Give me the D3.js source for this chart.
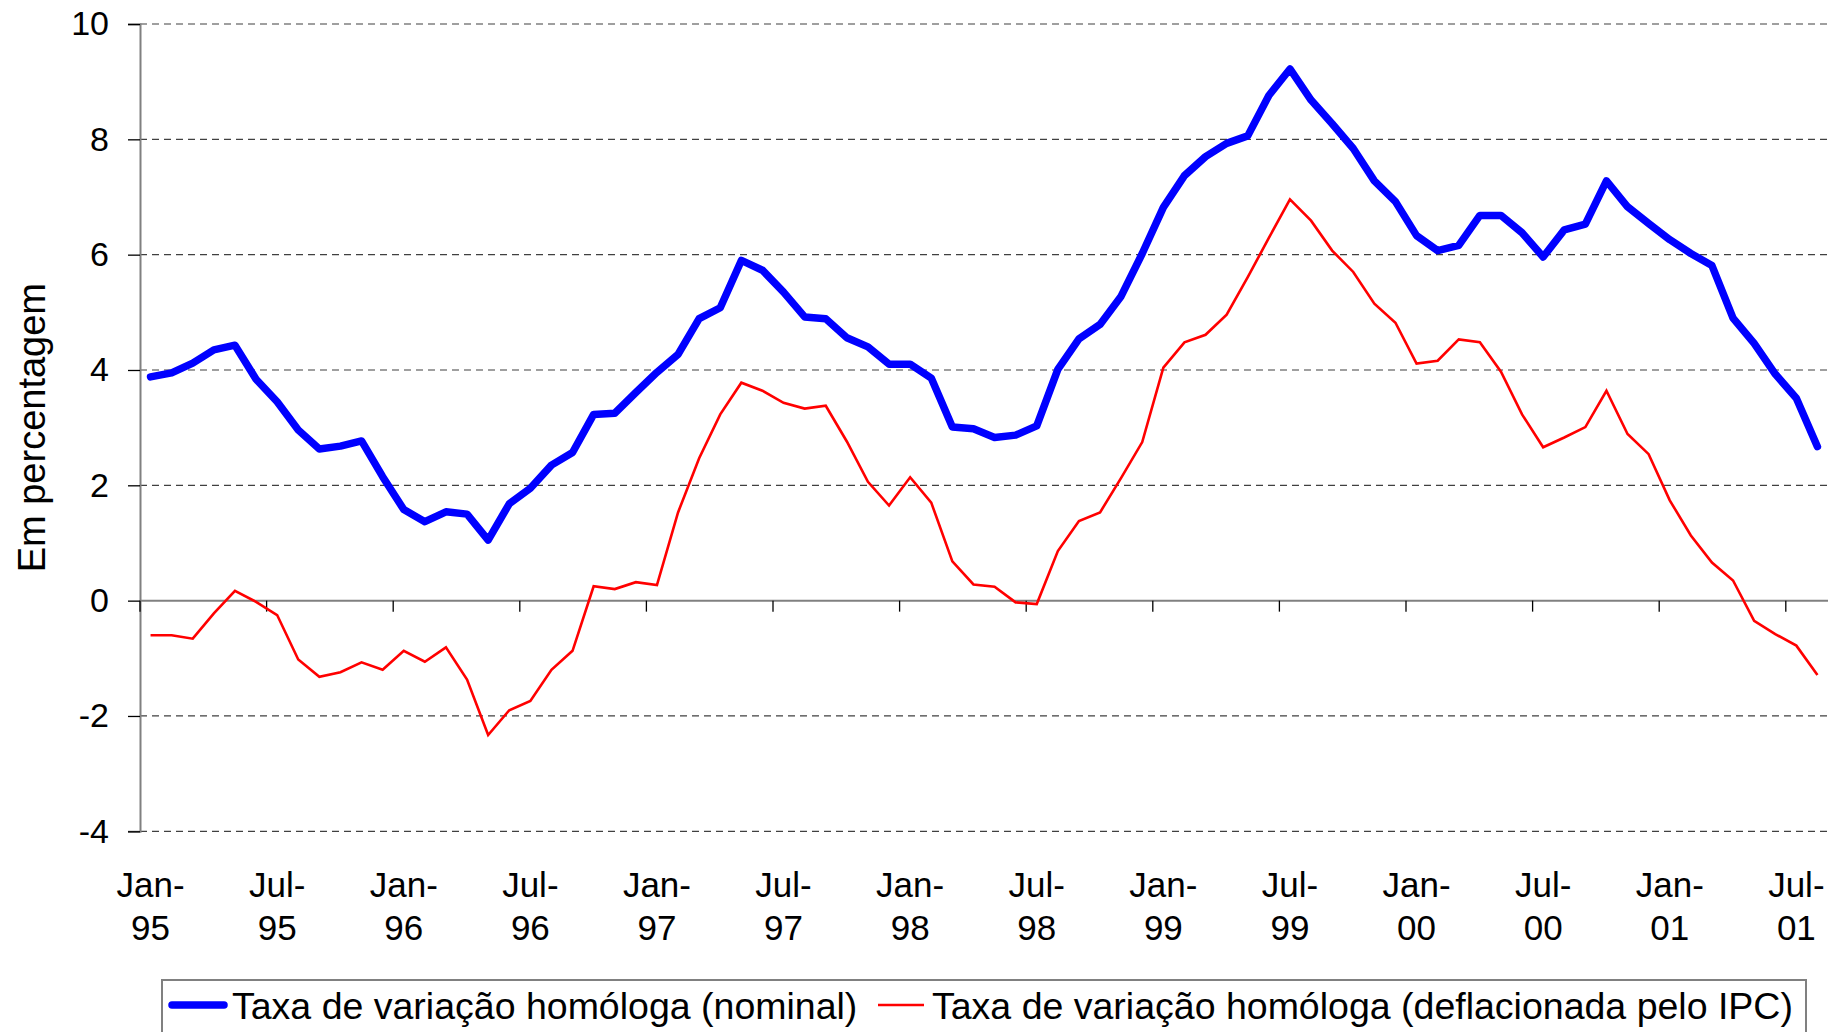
<!DOCTYPE html>
<html>
<head>
<meta charset="utf-8">
<script src="https://cdn.jsdelivr.net/npm/d3@7"></script>
<style>
  body { margin: 0; background: #fff; }
  svg { display: block; font-family: "Liberation Sans", Arial, sans-serif; }
</style>
</head>
<body>
<div id="container"></div>
<script>
// month categories, Jan-95 .. Aug-01
const months = d3.timeMonth.range(new Date(1995, 0, 1), new Date(2001, 8, 1));

const tickLabels = [
  ["Jan-", "95"], ["Jul-", "95"], ["Jan-", "96"], ["Jul-", "96"],
  ["Jan-", "97"], ["Jul-", "97"], ["Jan-", "98"], ["Jul-", "98"],
  ["Jan-", "99"], ["Jul-", "99"], ["Jan-", "00"], ["Jul-", "00"],
  ["Jan-", "01"], ["Jul-", "01"]
];

const yTicks = [-4, -2, 0, 2, 4, 6, 8, 10];

// taxa de variação homóloga (nominal)
const nominal = [
  3.88, 3.95, 4.12, 4.35, 4.43, 3.84, 3.45, 2.96, 2.63, 2.68, 2.77, 2.15,
  1.58, 1.37, 1.54, 1.50, 1.05, 1.68, 1.95, 2.35, 2.57, 3.23, 3.25, 3.61,
  3.96, 4.27, 4.89, 5.08, 5.90, 5.73, 5.35, 4.92, 4.89, 4.56, 4.40, 4.10,
  4.10, 3.86, 3.01, 2.98, 2.83, 2.87, 3.03, 4.01, 4.54, 4.79, 5.28, 6.02,
  6.82, 7.37, 7.70, 7.93, 8.06, 8.76, 9.22, 8.68, 8.27, 7.84, 7.28, 6.92,
  6.33, 6.07, 6.16, 6.68, 6.68, 6.38, 5.96, 6.43, 6.53, 7.28, 6.83, 6.54,
  6.26, 6.02, 5.81, 4.90, 4.46, 3.93, 3.51, 2.67
];

// taxa de variação homóloga (deflacionada pelo IPC)
const deflated = [
  -0.60, -0.60, -0.66, -0.22, 0.17, -0.02, -0.25, -1.02, -1.32, -1.24, -1.07, -1.20,
  -0.87, -1.06, -0.81, -1.37, -2.33, -1.90, -1.74, -1.20, -0.87, 0.25, 0.20, 0.32,
  0.27, 1.53, 2.47, 3.23, 3.78, 3.64, 3.43, 3.33, 3.38, 2.76, 2.06, 1.65,
  2.14, 1.70, 0.68, 0.28, 0.24, -0.03, -0.06, 0.86, 1.38, 1.53, 2.13, 2.75,
  4.04, 4.48, 4.61, 4.96, 5.61, 6.29, 6.96, 6.59, 6.07, 5.70, 5.15, 4.82,
  4.11, 4.16, 4.53, 4.48, 3.97, 3.23, 2.66, 2.83, 3.01, 3.64, 2.89, 2.54,
  1.74, 1.13, 0.66, 0.35, -0.35, -0.58, -0.78, -1.29
];

const seriesNames = [
  "Taxa de variação homóloga (nominal)",
  "Taxa de variação homóloga (deflacionada pelo IPC)"
];

/*==============================================
  SVG + SCALES
===============================================*/
const W = 1841, H = 1032;
const plot = { left: 140, right: 1828, top: 24, bottom: 831.3 };

const svg = d3.select("#container")
  .append("svg")
  .attr("width", W)
  .attr("height", H);

const xScale = d3.scaleBand()
  .domain(d3.range(months.length))
  .range([plot.left, plot.right])
  .padding(0);

const yScale = d3.scaleLinear()
  .domain([-4, 10])
  .range([plot.bottom, plot.top]);

const xc = i => xScale(i) + xScale.bandwidth() / 2;

/*==============================================
  GRID + Y AXIS
===============================================*/
svg.append("g")
  .selectAll("line")
  .data(yTicks.filter(d => d !== 0))
  .join("line")
  .attr("x1", plot.left)
  .attr("x2", plot.right)
  .attr("y1", d => yScale(d))
  .attr("y2", d => yScale(d))
  .attr("stroke", "#404040")
  .attr("stroke-width", 1.2)
  .attr("stroke-dasharray", "7,5");

const yAxis = d3.axisLeft(yScale)
  .tickValues(yTicks)
  .tickFormat(d => String(d))   // plain hyphen, like the original
  .tickSize(12)
  .tickPadding(19);

const yG = svg.append("g")
  .attr("transform", `translate(${plot.left},0)`)
  .call(yAxis);

yG.select(".domain").attr("stroke", "#808080").attr("stroke-width", 2);
yG.selectAll(".tick line").attr("stroke", "#000").attr("stroke-width", 1.3);
yG.selectAll(".tick text")
  .attr("font-size", 34)
  .attr("font-family", "Liberation Sans, Arial, sans-serif")
  .attr("fill", "#000");

svg.append("text")
  .attr("transform", `translate(45, ${(plot.top + plot.bottom) / 2}) rotate(-90)`)
  .attr("text-anchor", "middle")
  .attr("font-size", 38)
  .text("Em percentagem");

/*==============================================
  X AXIS (at zero)
===============================================*/
const y0 = yScale(0);
svg.append("line")
  .attr("x1", plot.left)
  .attr("x2", plot.right)
  .attr("y1", y0)
  .attr("y2", y0)
  .attr("stroke", "#808080")
  .attr("stroke-width", 2);

const tickIdx = d3.range(0, months.length, 6);

svg.append("g")
  .selectAll("line")
  .data(tickIdx)
  .join("line")
  .attr("x1", d => xScale(d))
  .attr("x2", d => xScale(d))
  .attr("y1", y0)
  .attr("y2", y0 + 11)
  .attr("stroke", "#000")
  .attr("stroke-width", 1.3);

const xLab = svg.append("g")
  .selectAll("text")
  .data(tickIdx)
  .join("text")
  .attr("text-anchor", "middle")
  .attr("font-size", 35)
  .attr("x", d => xc(d));

xLab.append("tspan")
  .attr("x", d => xc(d))
  .attr("y", 897)
  .text((d, i) => tickLabels[i][0]);

xLab.append("tspan")
  .attr("x", d => xc(d))
  .attr("y", 940)
  .text((d, i) => tickLabels[i][1]);

/*==============================================
  LINES
===============================================*/
const line = d3.line()
  .x((d, i) => xc(i))
  .y(d => yScale(d));

svg.append("path")
  .datum(deflated)
  .attr("d", line)
  .attr("fill", "none")
  .attr("stroke", "#ff0000")
  .attr("stroke-width", 2.6)
  .attr("stroke-linejoin", "miter");

svg.append("path")
  .datum(nominal)
  .attr("d", line)
  .attr("fill", "none")
  .attr("stroke", "#0000ff")
  .attr("stroke-width", 7.5)
  .attr("stroke-linejoin", "round")
  .attr("stroke-linecap", "round");

/*==============================================
  LEGEND
===============================================*/
const legend = svg.append("g");

legend.append("rect")
  .attr("x", 162)
  .attr("y", 980)
  .attr("width", 1806 - 162)
  .attr("height", 70)
  .attr("fill", "#fff")
  .attr("stroke", "#808080")
  .attr("stroke-width", 2);

const legendItems = [
  { x: 172, len: 52, color: "#0000ff", w: 7.5 },
  { x: 878, len: 46, color: "#ff0000", w: 2.6 }
];

legendItems.forEach((it, i) => {
  legend.append("line")
    .attr("x1", it.x)
    .attr("x2", it.x + it.len)
    .attr("y1", 1005)
    .attr("y2", 1005)
    .attr("stroke", it.color)
    .attr("stroke-width", it.w)
    .attr("stroke-linecap", i === 0 ? "round" : "butt");

  legend.append("text")
    .attr("x", it.x + it.len + 8)
    .attr("y", 1019)
    .attr("font-size", 37.5)
    .text(seriesNames[i]);
});
</script>
</body>
</html>
